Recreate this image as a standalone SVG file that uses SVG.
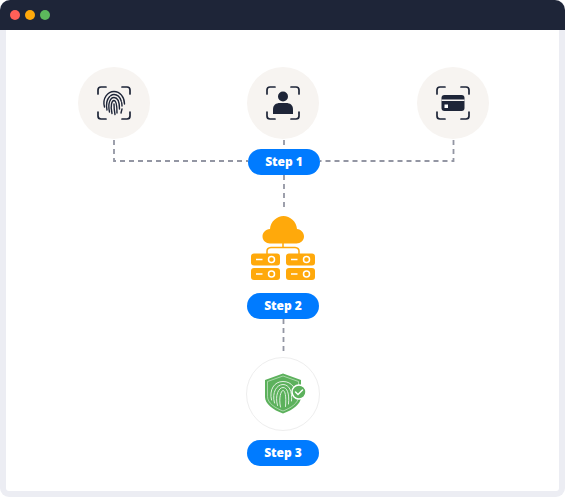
<svg xmlns="http://www.w3.org/2000/svg" width="565" height="497" viewBox="0 0 565 497">
<style>
.dash{fill:none;stroke:#9396a3;stroke-width:1.800;stroke-dasharray:5 4}
.halo{fill:#f7f4f1}
.brk{fill:none;stroke:#1e2538;stroke-width:1.700;stroke-linecap:round}
.ink{fill:#1e2538}
.pill{fill:#007bff}
.lbl{font-family:"Open Sans","Noto Sans",sans-serif;font-weight:800;font-size:12px;fill:#fff;text-anchor:middle}
.ridge{fill:none;stroke:#1e2538;stroke-width:1.400;stroke-linecap:round}
.wr{fill:none;stroke:#dff0df;stroke-width:1;stroke-linecap:round}
.org{fill:#ffa90b}
.orl{fill:none;stroke:#ffa90b;stroke-width:1.500}
.srv{fill:none;stroke:#fff;stroke-width:1.500}
</style>
<defs>
<g id="brackets">
<path class="brk" d="M-16-9v-4a3 3 0 0 1 3-3h5M8-16h5a3 3 0 0 1 3 3v4M16 9v4a3 3 0 0 1-3 3H8M-8 16h-5a3 3 0 0 1-3-3V9"/>
</g>
<g id="rack">
<rect class="org" x="-14.500" y="-6" width="29" height="12" rx="3"/>
<path class="srv" d="M-9.500 0H-3"/>
<circle class="srv" cx="6" cy="0" r="3"/>
</g>
</defs>
<g id="frame">
<rect x="0" y="0" width="565" height="497" rx="9" fill="#ecedf3"/>
<rect x="6" y="24" width="553" height="467" rx="3" fill="#fff"/>
<path d="M0 30V10A10 10 0 0 1 10 0H555A10 10 0 0 1 565 10V30Z" fill="#1e2538"/>
<circle cx="15" cy="15" r="5" fill="#ff6058"/>
<circle cx="30" cy="15" r="5" fill="#ffa90b"/>
<circle cx="45" cy="15" r="5" fill="#5cb85c"/>
</g>
<g id="connectors">
<path class="dash" d="M114 140V161H248"/>
<path class="dash" d="M453.500 140V161H320"/>
<path class="dash" d="M284 140V149"/>
<path class="dash" d="M284 175V208"/>
<path class="dash" d="M283.500 319V354"/>
</g>
<g id="fingerprint-node">
<circle class="halo" cx="114" cy="103" r="36"/>
<use href="#brackets" x="114" y="103"/>
<g transform="translate(114 103)">
<path class="ridge" d="M-9.500 4C-12-5-6-11.500 0-11.500S10.500-6 10.500 1"/>
<path class="ridge" d="M-7 7C-9-3-4-8.500 0-8.500S8-4 8 3" stroke-dasharray="14 1.500"/>
<path class="ridge" d="M-4.500 9C-6.500 0-3.500-5.500 0-5.500S5.500-1 5.500 6"/>
<path class="ridge" d="M-2 10.500C-4 2-2-2.500 0-2.500S3 2 3 10"/>
<path class="ridge" d="M0 1C0 5 .5 9 1 11.500"/>
<path class="ridge" d="M8 6 7 10"/>
</g>
</g>
<g id="face-node">
<circle class="halo" cx="283" cy="103" r="36"/>
<use href="#brackets" x="283" y="103"/>
<circle class="ink" cx="283" cy="96.500" r="5"/>
<path class="ink" d="M273 114V109.500C273 105 276 103 280 103H286C290 103 293 105 293 109.500V114Z"/>
</g>
<g id="card-node">
<circle class="halo" cx="453" cy="103" r="36"/>
<use href="#brackets" x="453" y="103"/>
<rect class="ink" x="441.500" y="95" width="23" height="16" rx="3"/>
<rect x="441.500" y="99.500" width="23" height="1.500" fill="#f7f4f1"/>
<rect x="444.500" y="104.500" width="3.500" height="3.500" fill="#fff"/>
</g>
<g id="step1">
<rect class="pill" x="248" y="149" width="72" height="26" rx="13"/>
<text class="lbl" x="284" y="166.300">Step 1</text>
</g>
<g id="cloud-node">
<path class="org" d="M270 243.500C266 243.500 262.500 240.500 262.500 236.500S265.500 229.500 270 229C270.500 221.500 277 216 283.500 216S296.500 221.500 297 229C301 229.500 304 232.500 304 236.500S300.500 243.500 296.500 243.500Z"/>
<path class="orl" d="M283 243V247M267 254V251Q267 248 271 247.500H295Q299 248 299 251V254"/>
<use href="#rack" x="265.500" y="259.500"/>
<use href="#rack" x="300.500" y="259.500"/>
<use href="#rack" x="265.500" y="274"/>
<use href="#rack" x="300.500" y="274"/>
</g>
<g id="step2">
<rect class="pill" x="247" y="293" width="72" height="26" rx="13"/>
<text class="lbl" x="283" y="310.300">Step 2</text>
</g>
<g id="shield-node">
<circle cx="283" cy="394" r="36.500" fill="#fff" stroke="#eeeeee"/>
<path d="M283 373.500 301 380V397C301 404 293 410 283 413.500C273 410 265 404 265 397V380Z" fill="#5cb15c"/>
<path d="M283 376 298.500 381.500V396.500C298.500 403 291 408 283 411C275 408 267.500 403 267.500 396.500V381.500Z" fill="none" stroke="#dff0df" stroke-width=".6"/>
<path class="wr" d="M271.500 400C269 390 274 381.500 283 381.500S297 389 295.500 398"/>
<path class="wr" d="M274.500 403C271.500 392 277 384.500 283 384.500S292.500 391 291.500 401"/>
<path class="wr" d="M277.500 405.500C274.500 395 279 387.500 283 387.500S289.500 393 288.500 404"/>
<path class="wr" d="M280.500 407C278.500 398 281 390.500 283 390.500S286.500 396 285.500 406.500"/>
<circle cx="299" cy="392" r="7" fill="#5cb15c" stroke="#fff" stroke-width="1.500"/>
<path d="M295.500 392 298 394.500 302.500 390" fill="none" stroke="#fff" stroke-width="1.500" stroke-linecap="round"/>
</g>
<g id="step3">
<rect class="pill" x="247" y="440" width="72" height="26" rx="13"/>
<text class="lbl" x="283" y="457.300">Step 3</text>
</g>
</svg>
